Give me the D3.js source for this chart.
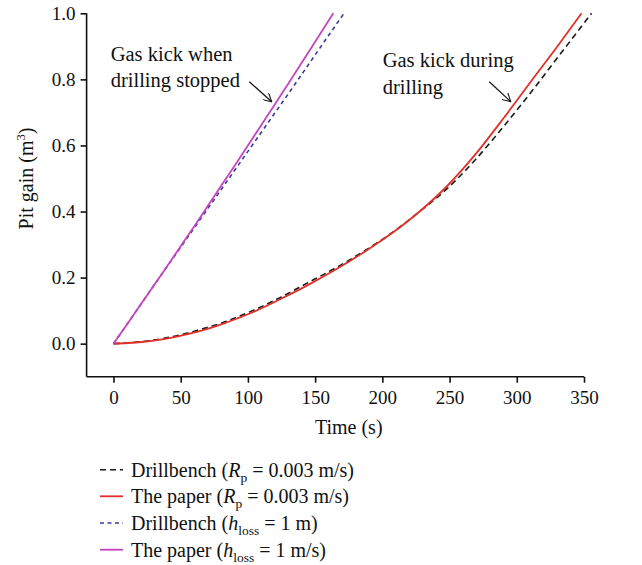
<!DOCTYPE html>
<html>
<head>
<meta charset="utf-8">
<script src="https://cdn.jsdelivr.net/npm/d3@7"></script>
<style>
  html, body { margin: 0; padding: 0; background: #fff; }
  svg text { font-family: "Liberation Serif", "Times New Roman", serif; fill: #111; }
</style>
</head>
<body>
<svg id="chart" width="642" height="565"></svg>
<script>
// ---- Data ----
const xTicks = [0, 50, 100, 150, 200, 250, 300, 350];
const yTicks = [0.0, 0.2, 0.4, 0.6, 0.8, 1.0];

// Drillbench, Rp = 0.003 m/s (black dashed)
const drillbenchRpT = [0, 20.7, 41.4, 62.1, 82.8, 103.5, 124.2, 144.9, 165.6, 186.3, 207.0, 227.7, 248.4, 269.0, 289.7, 310.4, 331.1, 355.6];
const drillbenchRpY = [0, 0.006, 0.019, 0.040, 0.066, 0.100, 0.140, 0.185, 0.230, 0.280, 0.335, 0.400, 0.470, 0.556, 0.655, 0.760, 0.870, 1.0];

// The paper, Rp = 0.003 m/s (red)
const paperRpT = [0, 10.3, 20.7, 31.0, 41.4, 51.7, 62.1, 72.4, 82.8, 93.1, 103.5, 124.2, 144.9, 165.6, 186.3, 207.0, 227.7, 248.4, 269.0, 289.7, 310.4, 331.1, 348.1];
const paperRpY = [0, 0.002, 0.005, 0.010, 0.017, 0.026, 0.036, 0.048, 0.062, 0.078, 0.095, 0.135, 0.178, 0.225, 0.277, 0.334, 0.400, 0.478, 0.572, 0.680, 0.793, 0.905, 1.0];

// Drillbench, h_loss = 1 m (blue dashed)
const drillbenchHT = [0, 10, 20, 30, 40, 50, 60, 70, 80, 90, 100, 110, 120, 130, 140, 150, 160, 171.5];
const drillbenchHY = [0, 0.058, 0.117, 0.176, 0.234, 0.292, 0.350, 0.408, 0.466, 0.524, 0.582, 0.640, 0.698, 0.756, 0.815, 0.874, 0.933, 1.0];

// The paper, h_loss = 1 m/s (magenta)
const paperHT = [0, 10, 20, 30, 40, 50, 60, 70, 80, 90, 100, 110, 120, 130, 140, 150, 163.5];
const paperHY = [0, 0.058, 0.117, 0.176, 0.235, 0.295, 0.355, 0.416, 0.477, 0.538, 0.600, 0.662, 0.724, 0.787, 0.850, 0.914, 1.0];

const seriesNames = [
  "Drillbench (Rp = 0.003 m/s)",
  "The paper (Rp = 0.003 m/s)",
  "Drillbench (hloss = 1 m)",
  "The paper (hloss = 1 m/s)"
];

// ---- Layout ----
const svg = d3.select("#chart");
const mLeft = 86.6, mRight = 584, mTop = 13.3, mBottom = 376.7;

const x = d3.scaleLinear().domain([-20, 350]).range([mLeft, mRight]);
const y = d3.scaleLinear().domain([-0.1, 1.0]).range([mBottom, mTop]);

// Axes
const xAxis = d3.axisBottom(x).tickValues(xTicks).tickSize(6).tickPadding(8).tickFormat(d3.format("d"));
const yAxis = d3.axisLeft(y).tickValues(yTicks).tickSize(6).tickPadding(5).tickFormat(d3.format(".1f"));

const gx = svg.append("g").attr("transform", `translate(0,${mBottom})`).call(xAxis);
const gy = svg.append("g").attr("transform", `translate(${mLeft},0)`).call(yAxis);
[gx, gy].forEach(g => {
  g.select(".domain").attr("stroke", "#111").attr("stroke-width", 1.6);
  g.selectAll(".tick line").attr("stroke", "#111").attr("stroke-width", 1.6);
  g.selectAll(".tick text").attr("font-size", 19).attr("font-family", "Liberation Serif, serif").attr("fill", "#111");
});
gy.select(".domain").attr("d", `M0,${mBottom}V${y(1.0)}`);
gx.select(".domain").attr("d", `M${mLeft},0H${x(350)}`);

// Axis titles
svg.append("text").attr("x", x(175)).attr("y", 434).attr("text-anchor", "middle")
  .attr("font-size", 20).text("Time (s)");
const yt = svg.append("text").attr("transform", `translate(33,${y(0.5)}) rotate(-90)`)
  .attr("text-anchor", "middle").attr("font-size", 20);
yt.append("tspan").text("Pit gain (m");
yt.append("tspan").attr("font-size", 12.5).attr("dy", -8).text("3");
yt.append("tspan").attr("dy", 8).text(")");

// Lines
const line = d3.line().x(d => x(d[0])).y(d => y(d[1])).curve(d3.curveMonotoneX);
const zip = (a, b) => a.map((v, i) => [v, b[i]]);

const styles = [
  { data: zip(drillbenchRpT, drillbenchRpY), color: "#1a1a1a", dash: "6,4", w: 1.6 },
  { data: zip(paperRpT, paperRpY), color: "#e0302a", dash: null, w: 1.8 },
  { data: zip(drillbenchHT, drillbenchHY), color: "#3a3a9e", dash: "4,3.5", w: 1.6 },
  { data: zip(paperHT, paperHY), color: "#c545bf", dash: null, w: 1.8 }
];

styles.forEach(s => {
  svg.append("path").datum(s.data)
    .attr("d", line)
    .attr("fill", "none")
    .attr("stroke", s.color)
    .attr("stroke-width", s.w)
    .attr("stroke-dasharray", s.dash);
});

// Annotations
svg.append("defs").append("marker")
  .attr("id", "arrow").attr("viewBox", "0 0 10 10").attr("refX", 9).attr("refY", 5)
  .attr("markerWidth", 9).attr("markerHeight", 9).attr("markerUnits", "userSpaceOnUse")
  .attr("orient", "auto")
  .append("path").attr("d", "M0,0 L9,5 L0,10").attr("fill", "none").attr("stroke", "#111").attr("stroke-width", 1.2);

function annot(lines, ax, ay, x1, y1, x2, y2) {
  const t = svg.append("text").attr("font-size", 20.5);
  lines.forEach((s, i) => t.append("tspan").attr("x", ax).attr("y", ay + i * 26.5).text(s));
  svg.append("line").attr("x1", x1).attr("y1", y1).attr("x2", x2).attr("y2", y2)
    .attr("stroke", "#111").attr("stroke-width", 1.2).attr("marker-end", "url(#arrow)");
}
annot(["Gas kick when", "drilling stopped"], 110.7, 60.7, 249.3, 81.7, 271.7, 101.7);
annot(["Gas kick during", "drilling"], 382.7, 67.3, 489.3, 81.7, 510.7, 101.7);

// Legend
const legendRows = [476.7, 503.3, 530, 556.7];
const lg = svg.append("g");
styles.forEach((s, i) => {
  const by = legendRows[i];
  lg.append("line").attr("x1", 100).attr("x2", 123).attr("y1", by - 7).attr("y2", by - 7)
    .attr("stroke", s.color).attr("stroke-width", s.w).attr("stroke-dasharray", s.dash);
  const t = lg.append("text").attr("x", 131).attr("y", by).attr("font-size", 20);
  const name = seriesNames[i];
  const label = name.split(" (")[0];
  t.append("tspan").text(label + " (");
  if (name.includes("Rp")) {
    t.append("tspan").attr("font-style", "italic").text("R");
    t.append("tspan").attr("font-size", 13.5).attr("dy", 5).text("p");
    t.append("tspan").attr("dy", -5).text(" = 0.003 m/s)");
  } else {
    t.append("tspan").attr("font-style", "italic").text("h");
    t.append("tspan").attr("font-size", 13.5).attr("dy", 5).text("loss");
    t.append("tspan").attr("dy", -5).text(name.endsWith("m/s)") ? " = 1 m/s)" : " = 1 m)");
  }
});
</script>
</body>
</html>
